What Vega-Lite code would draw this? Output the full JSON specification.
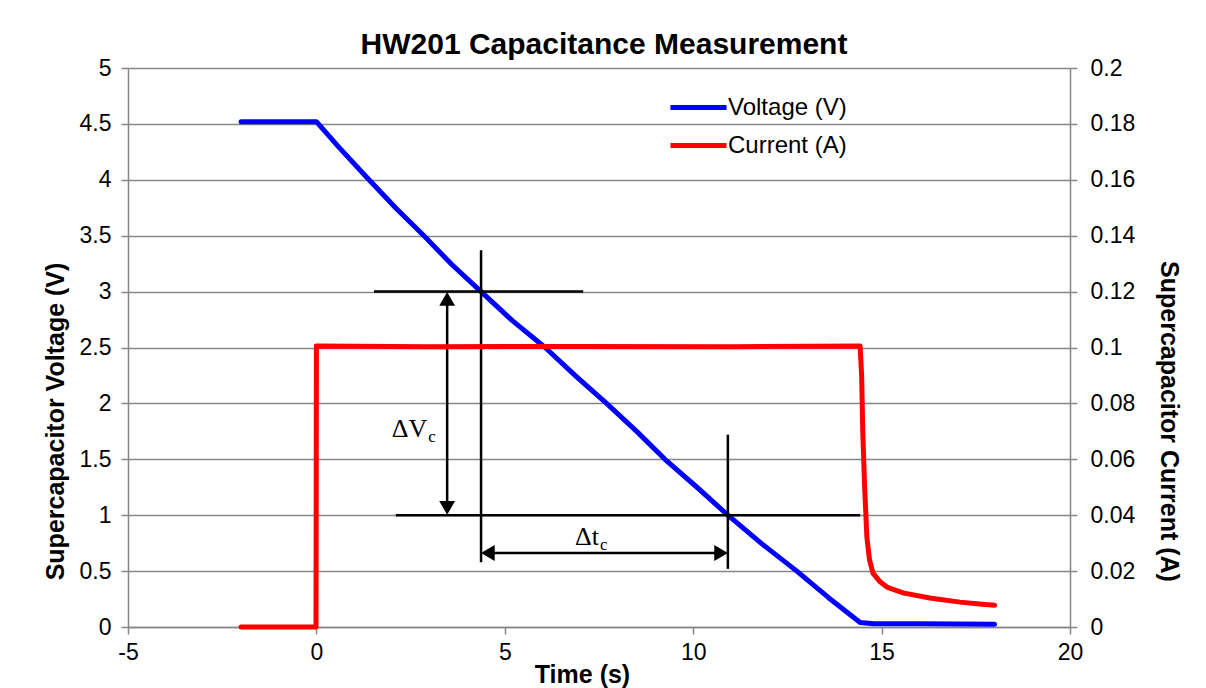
{
  "$schema": "https://vega.github.io/schema/vega-lite/v6.json",
  "width": 942,
  "height": 559,
  "autosize": {"type": "none"},
  "padding": {"left": 128, "top": 68, "right": 136, "bottom": 61},
  "background": "white",
  "title": {
    "text": "HW201 Capacitance Measurement",
    "font": "Liberation Sans",
    "fontSize": 30,
    "fontWeight": "bold",
    "color": "black",
    "anchor": "middle",
    "frame": "group",
    "baseline": "alphabetic",
    "offset": 2,
    "dy": 29,
    "dx": 5
  },
  "datasets": {
    "voltage": [
      {"t": -2, "V": 4.52}, {"t": -1, "V": 4.52}, {"t": 0, "V": 4.52},
      {"t": 0.6, "V": 4.29}, {"t": 1.34, "V": 4.02}, {"t": 2.1, "V": 3.75},
      {"t": 2.88, "V": 3.49}, {"t": 3.6, "V": 3.24}, {"t": 4.37, "V": 3.0},
      {"t": 5.2, "V": 2.74}, {"t": 6.07, "V": 2.5}, {"t": 6.9, "V": 2.24},
      {"t": 7.7, "V": 2.0}, {"t": 8.5, "V": 1.75}, {"t": 9.25, "V": 1.5},
      {"t": 10.1, "V": 1.25}, {"t": 10.92, "V": 1.0}, {"t": 11.8, "V": 0.75},
      {"t": 12.75, "V": 0.5}, {"t": 13.6, "V": 0.26}, {"t": 14.43, "V": 0.04},
      {"t": 14.8, "V": 0.03}, {"t": 16, "V": 0.028}, {"t": 18, "V": 0.025}
    ],
    "current": [
      {"t": -2, "I": 0}, {"t": -0.01, "I": 0}, {"t": 0, "I": 0.1005},
      {"t": 3, "I": 0.1003}, {"t": 7, "I": 0.1004}, {"t": 11, "I": 0.1003},
      {"t": 14.43, "I": 0.1005}, {"t": 14.47, "I": 0.09}, {"t": 14.5, "I": 0.07},
      {"t": 14.55, "I": 0.05}, {"t": 14.61, "I": 0.032}, {"t": 14.68, "I": 0.024},
      {"t": 14.77, "I": 0.0193}, {"t": 14.95, "I": 0.0163}, {"t": 15.14, "I": 0.0143},
      {"t": 15.57, "I": 0.0122}, {"t": 16.28, "I": 0.0104}, {"t": 17.08, "I": 0.0089},
      {"t": 17.6, "I": 0.0082}, {"t": 18, "I": 0.0078}
    ],
    "rules": [
      {"t": 1.53, "t2": 7.08, "V": 3, "V2": 3},
      {"t": 2.11, "t2": 14.43, "V": 1, "V2": 1},
      {"t": 4.37, "t2": 4.37, "V": 3.37, "V2": 0.58},
      {"t": 10.92, "t2": 10.92, "V": 1.72, "V2": 0.52},
      {"t": 3.47, "t2": 3.47, "V": 1.1, "V2": 2.9},
      {"t": 4.5, "t2": 10.8, "V": 0.662, "V2": 0.662}
    ],
    "heads": [
      {"t": 3.47, "V": 2.935, "dir": "up"},
      {"t": 3.47, "V": 1.065, "dir": "down"},
      {"t": 4.55, "V": 0.662, "dir": "left"},
      {"t": 10.74, "V": 0.662, "dir": "right"}
    ],
    "labels": [
      {"t": 2.94, "V": 1.70, "main": "ΔV", "sub": "c"},
      {"t": 7.5, "V": 0.733, "main": "Δt", "sub": "c"}
    ]
  },
  "layer": [
    {
      "layer": [
        {
          "data": {"name": "voltage"},
          "mark": {"type": "line", "strokeWidth": 5, "strokeCap": "round", "strokeJoin": "round"},
          "encoding": {
            "x": {
              "field": "t", "type": "quantitative",
              "scale": {"domain": [-5, 20], "nice": false},
              "axis": {
                "values": [-5, 0, 5, 10, 15, 20],
                "labelExpr": "'' + datum.value",
                "title": "Time (s)",
                "grid": false,
                "labelPadding": 7,
                "labelFlush": false,
                "titleX": 454,
                "titleY": 47,
                "titleAlign": "center",
                "titleBaseline": "middle"
              }
            },
            "y": {
              "field": "V", "type": "quantitative",
              "scale": {"domain": [0, 5], "nice": false},
              "axis": {
                "values": [0, 0.5, 1, 1.5, 2, 2.5, 3, 3.5, 4, 4.5, 5],
                "format": "~g",
                "title": "Supercapacitor Voltage (V)",
                "grid": true,
                "labelPadding": 10,
                "labelFlush": false,
                "titleX": -73,
                "titleY": 353,
                "titleAngle": 270,
                "titleAlign": "center",
                "titleBaseline": "middle"
              }
            },
            "color": {
              "datum": "Voltage (V)",
              "scale": {"domain": ["Voltage (V)", "Current (A)"], "range": ["#0000FF", "#FF0000"]},
              "legend": {
                "orient": "none",
                "legendX": 553,
                "legendY": 22,
                "title": null,
                "symbolType": "M-1.87,0H1.87",
                "symbolSize": 900,
                "symbolStrokeWidth": 5,
                "labelFont": "Liberation Sans",
                "labelFontSize": 24,
                "labelColor": "black",
                "labelOffset": 12,
                "rowPadding": 8,
                "padding": 0,
                "direction": "vertical"
              }
            }
          }
        },
        {
          "data": {"name": "rules"},
          "mark": {"type": "rule", "color": "black", "strokeWidth": 2.5},
          "encoding": {
            "x": {"field": "t", "type": "quantitative"},
            "x2": {"field": "t2"},
            "y": {"field": "V", "type": "quantitative"},
            "y2": {"field": "V2"}
          }
        },
        {
          "data": {"name": "heads"},
          "mark": {"type": "point", "filled": true, "color": "black", "size": 250, "opacity": 1},
          "encoding": {
            "x": {"field": "t", "type": "quantitative"},
            "y": {"field": "V", "type": "quantitative"},
            "shape": {
              "field": "dir", "type": "nominal",
              "scale": {"domain": ["up", "down", "left", "right"], "range": ["triangle-up", "triangle-down", "triangle-left", "triangle-right"]},
              "legend": null
            }
          }
        },
        {
          "data": {"name": "labels"},
          "mark": {"type": "text", "font": "Liberation Serif", "fontSize": 26, "align": "right", "baseline": "alphabetic", "color": "black"},
          "encoding": {
            "x": {"field": "t", "type": "quantitative"},
            "y": {"field": "V", "type": "quantitative"},
            "text": {"field": "main"}
          }
        },
        {
          "data": {"name": "labels"},
          "mark": {"type": "text", "font": "Liberation Serif", "fontSize": 17, "align": "left", "baseline": "alphabetic", "color": "black", "dx": 1, "dy": 5},
          "encoding": {
            "x": {"field": "t", "type": "quantitative"},
            "y": {"field": "V", "type": "quantitative"},
            "text": {"field": "sub"}
          }
        }
      ]
    },
    {
      "data": {"name": "current"},
      "mark": {"type": "line", "strokeWidth": 5, "strokeCap": "round", "strokeJoin": "round"},
      "encoding": {
        "x": {"field": "t", "type": "quantitative"},
        "y": {
          "field": "I", "type": "quantitative",
          "scale": {"domain": [0, 0.2], "nice": false},
          "axis": {
            "orient": "right",
            "values": [0, 0.02, 0.04, 0.06, 0.08, 0.1, 0.12, 0.14, 0.16, 0.18, 0.2],
            "format": "~g",
            "title": "Supercapacitor Current (A)",
            "grid": false,
            "labelPadding": 13,
            "labelFlush": false,
            "titleX": 98,
            "titleY": 353,
            "titleAngle": 90,
            "titleAlign": "center",
            "titleBaseline": "middle"
          }
        },
        "color": {"datum": "Current (A)"}
      }
    }
  ],
  "resolve": {"scale": {"y": "independent"}},
  "config": {
    "view": {"stroke": null},
    "axis": {
      "domainColor": "#868686",
      "domainWidth": 1.5,
      "tickColor": "#868686",
      "tickWidth": 1.5,
      "tickSize": 7,
      "gridColor": "#868686",
      "gridWidth": 1.5,
      "labelFont": "Liberation Sans",
      "labelFontSize": 23,
      "labelColor": "black",
      "labelOverlap": false,
      "titleFont": "Liberation Sans",
      "titleFontSize": 25,
      "titleFontWeight": "bold",
      "titleColor": "black"
    }
  }
}
